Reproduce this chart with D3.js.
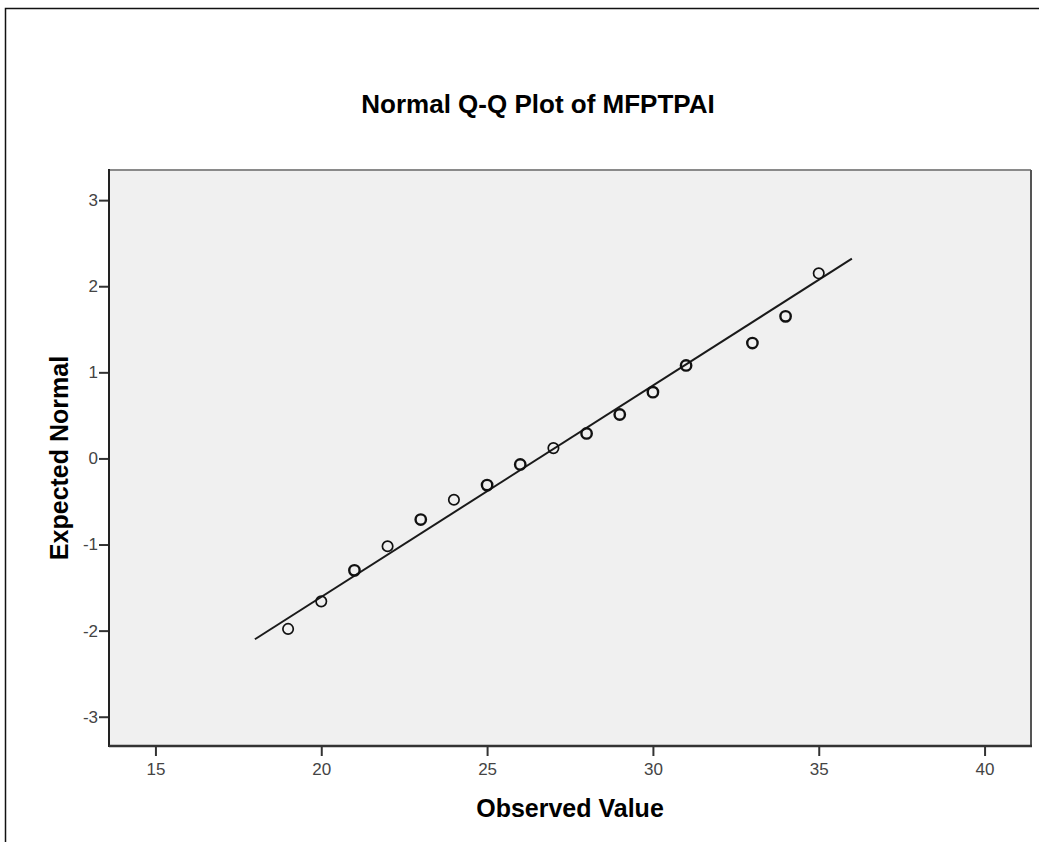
<!DOCTYPE html>
<html>
<head>
<meta charset="utf-8">
<script src="https://cdn.jsdelivr.net/npm/d3@7"></script>
<style>
  body { margin: 0; background: #fff; }
  svg text { font-family: "Liberation Sans", Arial, sans-serif; }
</style>
</head>
<body>
<svg id="chart" width="1039" height="842"></svg>
<script>
// Data
const observed = [19, 20, 21, 22, 23, 24, 25, 26, 27, 28, 29, 30, 31, 33, 34, 35];
const expected = [-1.98, -1.66, -1.30, -1.02, -0.71, -0.48, -0.31, -0.07, 0.12, 0.29, 0.51, 0.77, 1.08, 1.34, 1.65, 2.15];
const counts   = [1, 1, 2, 1, 2, 1, 2, 2, 1, 2, 2, 2, 2, 2, 2, 1];

// reference line endpoints
const lineX = [18, 36];
const lineY = [-2.10, 2.32];

const xTicks = [15, 20, 25, 30, 35, 40];
const yTicks = [-3, -2, -1, 0, 1, 2, 3];

const colors = {
  plotBg: "#f0f0f0",
  ink: "#111",
  tickText: "#444"
};

const svg = d3.select("#chart");
const plot = { left: 109, right: 1031, top: 170, bottom: 746 };

// outer frame (only top and left show)
svg.append("rect")
  .attr("x", 5.5).attr("y", 8.5)
  .attr("width", 1100).attr("height", 900)
  .attr("fill", "none")
  .attr("stroke", colors.ink)
  .attr("stroke-width", 1.5);

const x = d3.scaleLinear().domain([13.6, 41.4]).range([plot.left, plot.right]);
const y = d3.scaleLinear().domain([-3.34, 3.35]).range([plot.bottom, plot.top]);

// plot background
svg.append("rect")
  .attr("x", plot.left).attr("y", plot.top)
  .attr("width", plot.right - plot.left)
  .attr("height", plot.bottom - plot.top)
  .attr("fill", colors.plotBg);

// frame edges of the plot area
svg.append("line")
  .attr("x1", plot.left).attr("x2", plot.right)
  .attr("y1", plot.top).attr("y2", plot.top)
  .attr("stroke", "#8a8a8a").attr("stroke-width", 2);
svg.append("line")
  .attr("x1", plot.right).attr("x2", plot.right)
  .attr("y1", plot.top).attr("y2", plot.bottom)
  .attr("stroke", "#555").attr("stroke-width", 2);

// axes
const fmt = d => String(d);
const xAxis = svg.append("g")
  .attr("transform", `translate(0,${plot.bottom})`)
  .call(d3.axisBottom(x).tickValues(xTicks).tickFormat(fmt).tickSize(10).tickPadding(7));
const yAxis = svg.append("g")
  .attr("transform", `translate(${plot.left},0)`)
  .call(d3.axisLeft(y).tickValues(yTicks).tickFormat(fmt).tickSize(10).tickPadding(1));

[xAxis, yAxis].forEach(g => {
  g.select(".domain").remove();
  g.selectAll(".tick line").attr("stroke", "#333").attr("stroke-width", 2);
  g.selectAll(".tick text")
    .attr("fill", colors.tickText)
    .style("font-size", "17px");
});

svg.append("line")
  .attr("x1", plot.left).attr("x2", plot.left)
  .attr("y1", plot.top - 1).attr("y2", plot.bottom + 1)
  .attr("stroke", "#222").attr("stroke-width", 2);
svg.append("line")
  .attr("x1", plot.left).attr("x2", plot.right + 1)
  .attr("y1", plot.bottom).attr("y2", plot.bottom)
  .attr("stroke", "#333").attr("stroke-width", 2.5);

// reference line
svg.append("line")
  .attr("x1", x(lineX[0])).attr("y1", y(lineY[0]))
  .attr("x2", x(lineX[1])).attr("y2", y(lineY[1]))
  .attr("stroke", "#1a1a1a")
  .attr("stroke-width", 2);

// points
const pts = observed.map((v, i) => ({ x: v, y: expected[i], n: counts[i] }));
svg.selectAll("circle.pt")
  .data(pts)
  .enter().append("circle")
  .attr("class", "pt")
  .attr("cx", d => x(d.x))
  .attr("cy", d => y(d.y))
  .attr("r", 5.2)
  .attr("fill", "none")
  .attr("stroke", "#111")
  .attr("stroke-width", d => d.n > 1 ? 2.4 : 1.7);

// title and axis labels
svg.append("text")
  .attr("x", 538).attr("y", 113)
  .attr("text-anchor", "middle")
  .style("font-size", "26px")
  .style("font-weight", "bold")
  .text("Normal Q-Q Plot of MFPTPAI");

svg.append("text")
  .attr("x", (plot.left + plot.right) / 2).attr("y", 817)
  .attr("text-anchor", "middle")
  .style("font-size", "25px")
  .style("font-weight", "bold")
  .text("Observed Value");

svg.append("text")
  .attr("transform", `translate(68,${(plot.top + plot.bottom) / 2}) rotate(-90)`)
  .attr("text-anchor", "middle")
  .style("font-size", "25px")
  .style("font-weight", "bold")
  .text("Expected Normal");
</script>
</body>
</html>
